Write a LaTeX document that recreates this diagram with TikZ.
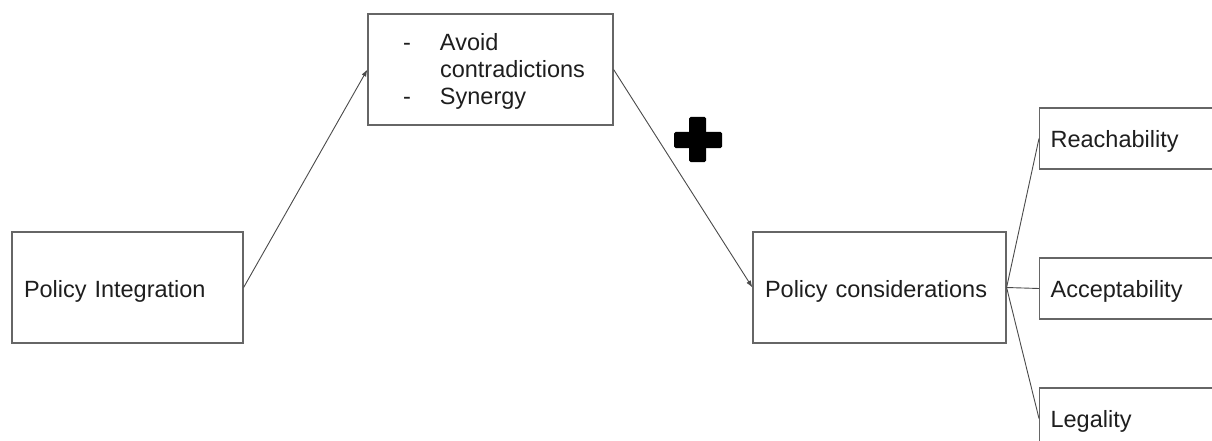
\documentclass[tikz,border=0pt]{standalone}
\usepackage{fontspec}
\setmainfont{Liberation Sans}
\usetikzlibrary{arrows.meta}
\definecolor{boxgray}{HTML}{666666}
\definecolor{linegray}{HTML}{4A4A4A}
\definecolor{txt}{HTML}{1E1E1E}
\begin{document}
\begin{tikzpicture}[x=1pt,y=-1pt,
  box/.style={draw=boxgray, line width=1.2pt, fill=white, minimum height=111pt,
    inner xsep=12pt, inner ysep=0pt, align=left, text=txt,
    text height=20pt, text depth=0pt,
    font=\fontsize{23.5}{28}\selectfont},
  leaf/.style={box, minimum height=61pt, text width=177pt, inner xsep=11pt,
    text height=18pt},
  link/.style={draw=linegray, line width=0.9pt},
  arrowlink/.style={link, -{Latex[length=7pt,width=5pt]}}]
  \useasboundingbox (0,0) rectangle (1212,441);
  \clip (0,0) rectangle (1212,441);

  % main boxes
  \node[box, text width=207pt] (integration) at (127.5,287.5) {Policy Integration};
  \node[box, minimum width=245pt, inner xsep=0pt, text height=, text depth=] (aims) at (490.5,69.5)
    {\hspace*{7pt}\fontsize{23.5}{27}\selectfont
     \raisebox{-3pt}[\height][\depth]{%
     \begin{tabular}{@{}p{37pt}@{}l@{}}
       - & Avoid\\
         & contradictions\\
       - & Synergy
     \end{tabular}}};
  \node[box, text width=229pt] (considerations) at (879.5,287.5) {Policy considerations};

  % criteria, running off the right edge
  \node[leaf, anchor=west] (reach)  at (1039,138.5) {Reachability};
  \node[leaf, anchor=west] (accept) at (1039,288.5) {Acceptability};
  \node[leaf, anchor=west] (legal)  at (1039,418.5) {Legality};

  % connectors
  \draw[arrowlink] (integration.east) -- (aims.west);
  \draw[arrowlink] (aims.east) -- (considerations.west);
  \draw[link] (considerations.east) -- (reach.west);
  \draw[link] (considerations.east) -- (accept.west);
  \draw[link] (considerations.east) -- (legal.west);

  % heavy plus sign
  \fill[black, rounded corners=1.5pt] (689,117) rectangle (706,162);
  \fill[black, rounded corners=1.5pt] (674,132) rectangle (722,148);
\end{tikzpicture}
\end{document}
